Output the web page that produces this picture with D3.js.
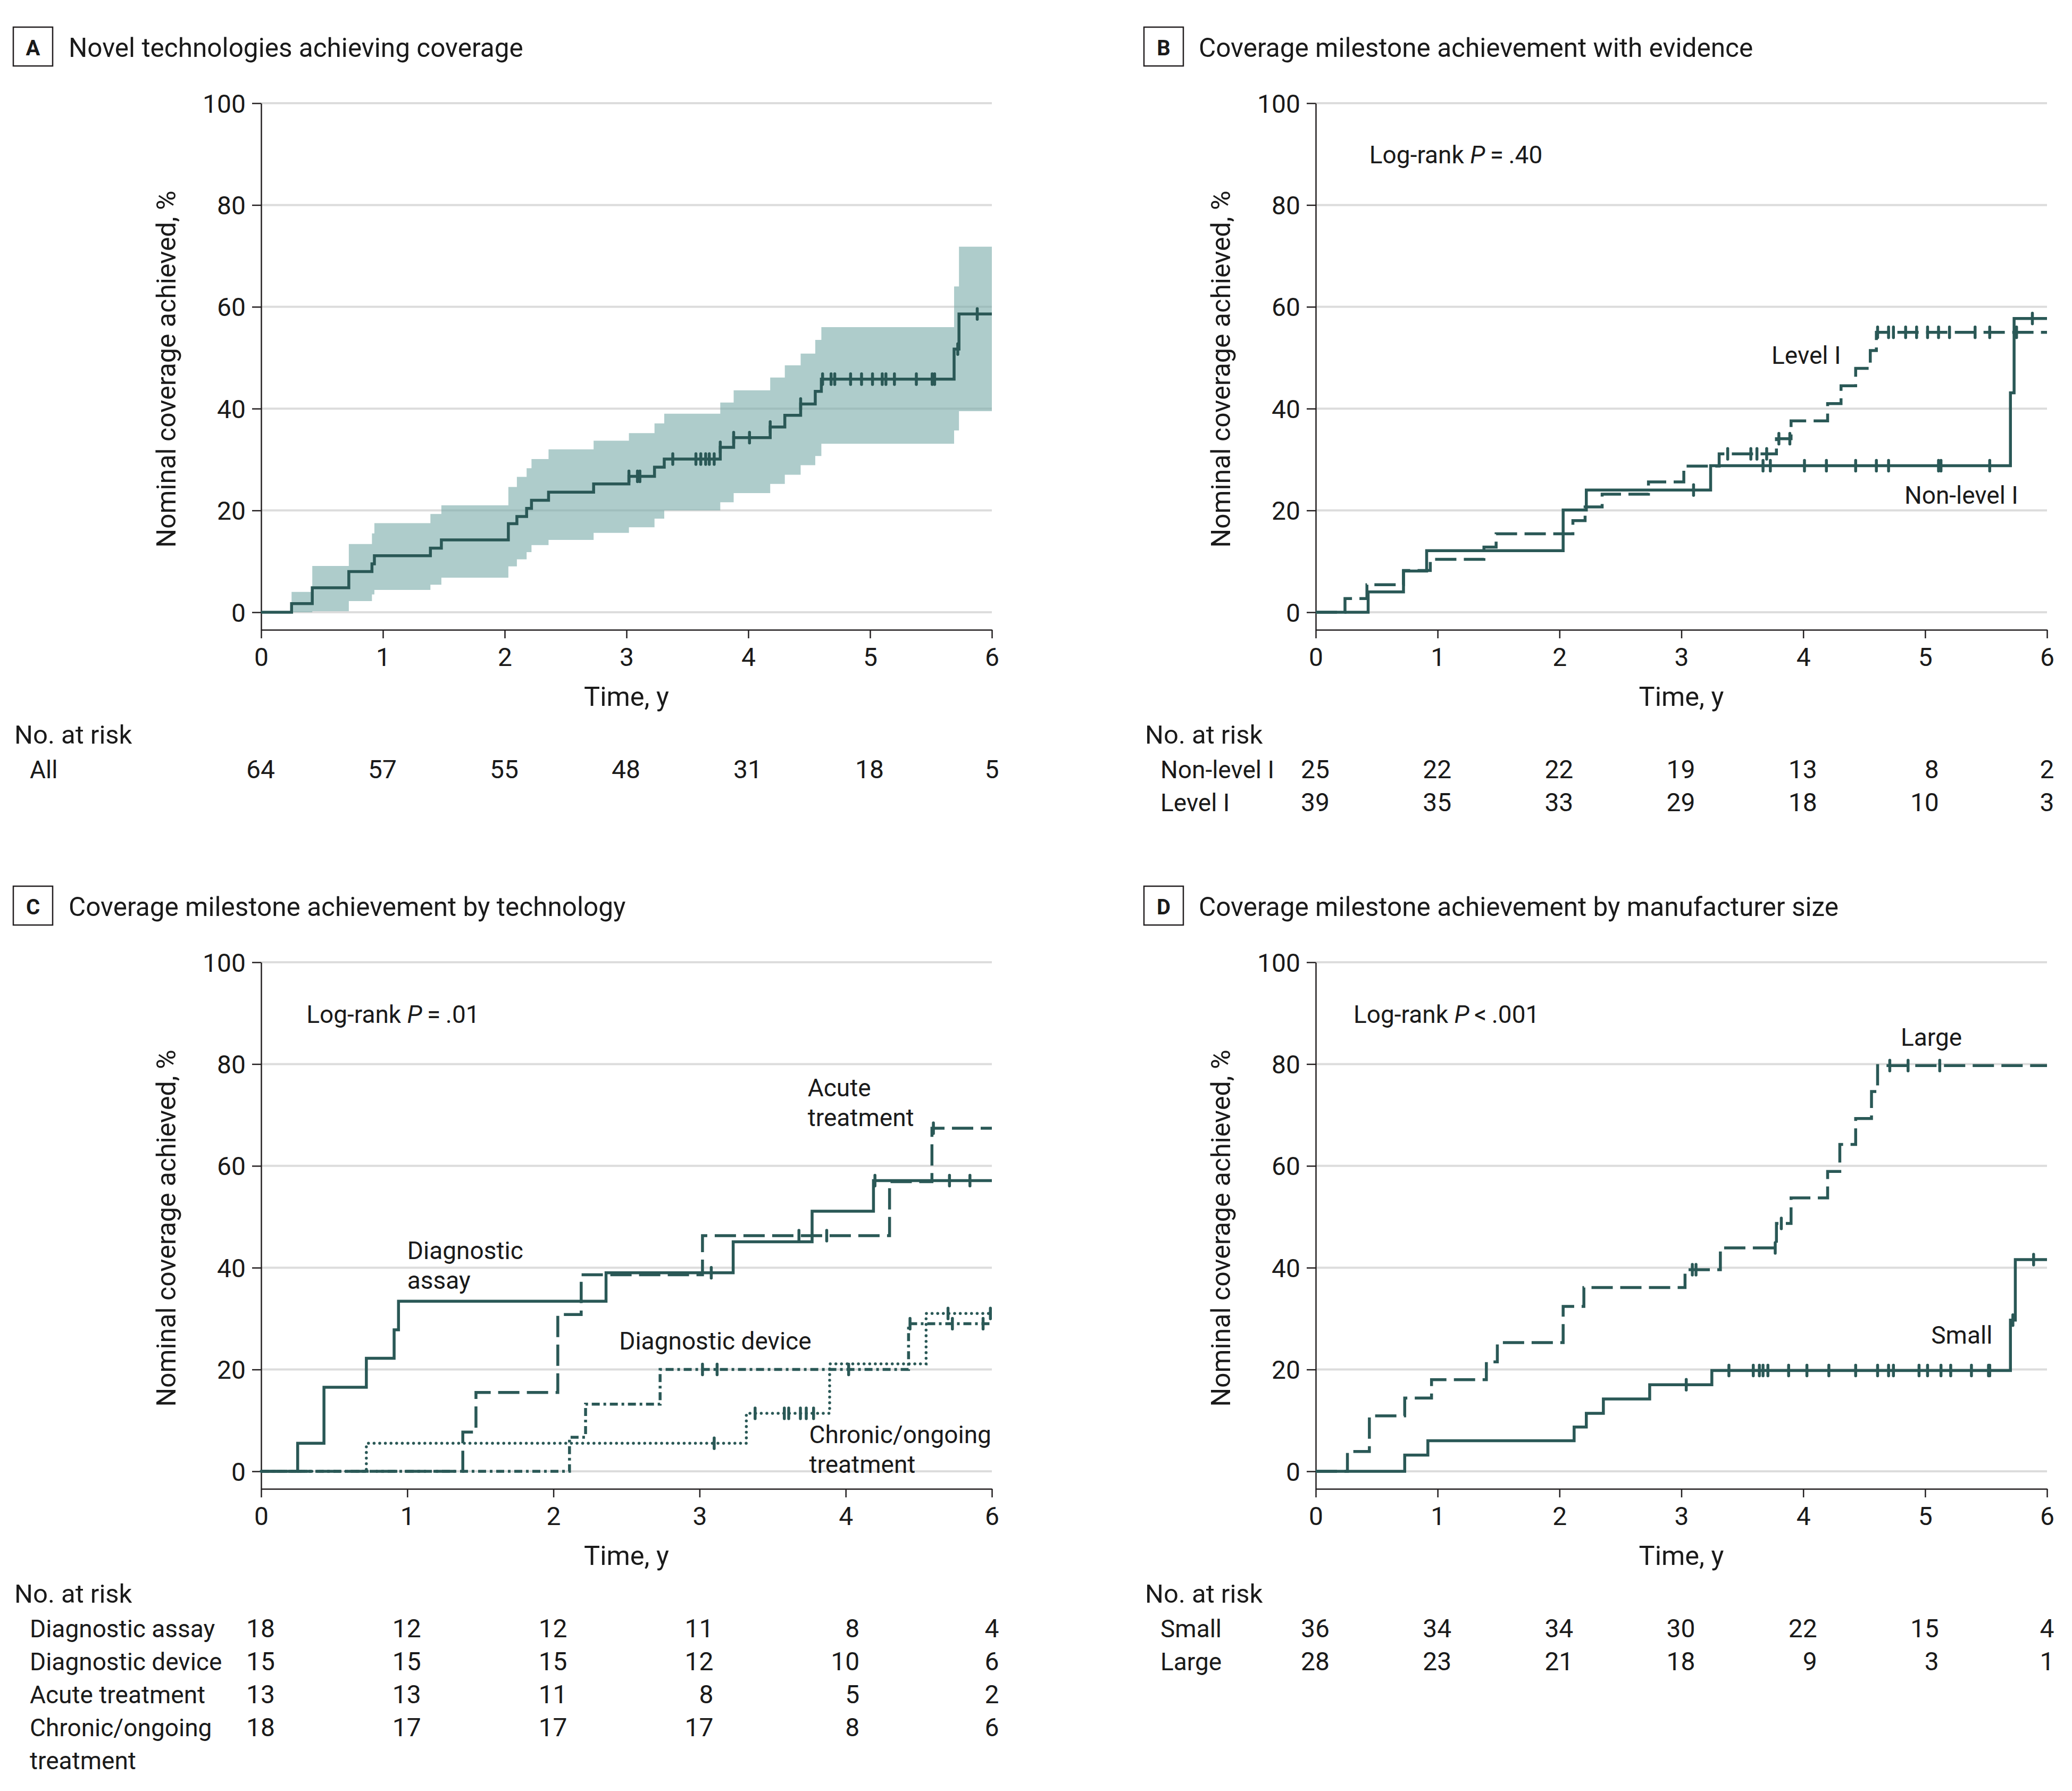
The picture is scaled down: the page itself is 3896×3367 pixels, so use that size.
<!DOCTYPE html>
<html><head><meta charset="utf-8">
<script src="https://cdn.jsdelivr.net/npm/d3@7/dist/d3.min.js"></script>
<style>
body{margin:0;background:#fff}
text{font-family:Roboto,"Noto Sans",sans-serif;fill:#1a1a1a}
</style>
</head><body>
<svg id="chart" width="3896" height="3367"></svg>
<script>
// ---------------- DATA ----------------
const titles = ["Novel technologies achieving coverage","Coverage milestone achievement with evidence","Coverage milestone achievement by technology","Coverage milestone achievement by manufacturer size"];
const panelLetters = ["A","B","C","D"];
const yTicks = [0,20,40,60,80,100];
const xTicks6 = [0,1,2,3,4,5,6];
const xTickLabels6 = ["0","1","2","3","4","5","6"];
const xTicksC = [0,1,2,3,4,5];
const xTickLabelsC = ["0","1","2","3","4","6"];

// Panel A
const aTimes = [0.25,0.42,0.72,0.91,0.93,1.39,1.48,2.03,2.10,2.18,2.22,2.36,2.73,3.02,3.23,3.31,3.77,3.88,4.18,4.30,4.43,4.55,4.60,5.69,5.73];
const aCum   = [1.7,4.8,8.0,9.5,11.1,12.6,14.2,17.4,18.8,20.4,22.0,23.6,25.2,26.7,28.5,30.1,32.4,34.3,36.4,38.7,40.9,43.4,45.8,51.7,58.6];
const aUpper = [4.0,9.1,13.4,15.5,17.5,19.3,21.0,24.6,26.6,28.3,30.1,32.0,33.7,35.2,37.1,39.0,41.2,43.6,46.1,48.5,50.8,53.5,56.0,64.0,71.8];
const aLower = [0.0,0.2,2.2,3.5,4.4,5.4,6.8,9.0,10.4,11.8,13.2,14.2,15.6,16.7,18.4,20.0,21.6,23.4,25.2,27.0,28.9,30.7,33.1,35.7,39.5];
const aCensor = [3.02,3.09,3.11,3.38,3.57,3.61,3.65,3.68,3.72,3.77,3.88,4.01,4.18,4.43,4.61,4.68,4.71,4.84,4.93,5.02,5.10,5.13,5.20,5.38,5.51,5.53,5.72,5.88];
const aRiskLabels = [["All"]];
const aRisk = [[64,57,55,48,31,18,5]];

// Panel B
const bNonTimes = [0.43,0.72,0.91,2.03,2.22,3.24,5.70,5.73];
const bNonCum   = [4.0,8.1,12.1,20.1,24.0,28.8,43.1,57.7];
const bNonCensor = [3.10,3.67,3.73,4.01,4.19,4.43,4.60,4.70,5.11,5.13,5.53,5.88];
const bLevTimes = [0.24,0.42,0.72,0.94,1.38,1.48,2.11,2.21,2.35,2.73,3.02,3.31,3.78,3.90,4.20,4.31,4.43,4.55,4.60];
const bLevCum   = [2.7,5.4,8.2,10.4,12.8,15.4,18.0,20.7,23.2,25.6,28.7,31.1,34.1,37.6,41.0,44.5,47.9,51.4,55.0];
const bLevCensor = [3.38,3.57,3.62,3.70,3.80,3.89,4.61,4.70,4.74,4.84,4.93,5.02,5.11,5.20,5.41,5.53,5.75];
const bRiskLabels = [["Non-level I"],["Level I"]];
const bRisk = [[25,22,22,19,13,8,2],[39,35,33,29,18,10,3]];

// Panel C
const cAssayTimes = [0.25,0.43,0.72,0.91,0.94,2.36,3.23,3.77,4.19];
const cAssayCum   = [5.5,16.5,22.2,27.8,33.4,39.0,45.1,51.1,57.1];
const cAssayCensor = [3.08,4.20,4.71,4.85];
const cAcuteTimes = [1.38,1.47,2.03,2.19,3.02,4.30,4.59];
const cAcuteCum   = [7.7,15.5,30.8,38.6,46.3,56.9,67.4];
const cAcuteCensor = [3.68,3.87,4.60];
const cDeviceTimes = [2.11,2.22,2.73,4.43];
const cDeviceCum   = [6.7,13.2,20.0,29.0];
const cDeviceCensor = [3.02,3.12,4.02,4.44,4.73,4.94];
const cChronicTimes = [0.72,3.32,3.89,4.55];
const cChronicCum   = [5.5,11.4,21.1,31.0];
const cChronicCensor = [3.10,3.38,3.58,3.61,3.69,3.73,3.78,4.70,4.99];
const cRiskLabels = [["Diagnostic assay"],["Diagnostic device"],["Acute treatment"],["Chronic/ongoing","treatment"]];
const cRisk = [[18,12,12,11,8,4],[15,15,15,12,10,6],[13,13,11,8,5,2],[18,17,17,17,8,6]];

// Panel D
const dLargeTimes = [0.26,0.44,0.73,0.95,1.40,1.49,2.03,2.20,3.03,3.32,3.78,3.90,4.20,4.30,4.43,4.56,4.61];
const dLargeCum   = [3.9,10.9,14.4,18.0,21.5,25.3,32.4,36.1,39.6,43.9,48.7,53.7,58.9,64.2,69.3,74.6,79.7];
const dLargeCensor = [3.09,3.12,3.77,3.82,4.71,4.86,5.12];
const dSmallTimes = [0.73,0.92,2.12,2.22,2.36,2.74,3.25,5.70,5.74];
const dSmallCum   = [3.2,6.0,8.7,11.4,14.2,17.0,19.8,29.7,41.6];
const dSmallCensor = [3.04,3.39,3.59,3.64,3.67,3.71,3.88,4.03,4.21,4.43,4.61,4.70,4.74,4.95,5.02,5.13,5.21,5.38,5.52,5.53,5.72,5.89];
const dRiskLabels = [["Small"],["Large"]];
const dRisk = [[36,34,34,30,22,15,4],[28,23,21,18,9,3,1]];

// ---------------- STYLE / LAYOUT ----------------
const LINE = "#2a5856", BAND = "#78aaa8", GRID = "#dcdcdc", AXIS = "#231f20";
const DASH = {solid:null, dashed:"40,14", dashdot:"15,7,5,7", dotted:"0.1,10.5"};
const svg = d3.select("#chart");
svg.append("rect").attr("width",3896).attr("height",3367).attr("fill","#fff");

const panels = [
  {i:0, boxX:25, titleX:129, x0:491, x1:1865, off:0, xMax:6, xTicks:xTicks6, xLabels:xTickLabels6,
   band:{times:aTimes, lo:aLower, hi:aUpper},
   series:[{times:aTimes, cum:aCum, censor:aCensor, dash:"solid"}],
   riskLabels:aRiskLabels, risk:aRisk, notes:[]},
  {i:1, boxX:2151, titleX:2254, x0:2474, x1:3849, off:0, xMax:6, xTicks:xTicks6, xLabels:xTickLabels6,
   series:[{times:bNonTimes, cum:bNonCum, censor:bNonCensor, dash:"solid"},
           {times:bLevTimes, cum:bLevCum, censor:bLevCensor, dash:"dashed"}],
   riskLabels:bRiskLabels, risk:bRisk,
   notes:[{t:0.44, v:88.2, logrank:"= .40"},{t:3.74, v:48.8, lines:["Level I"]},{t:4.83, v:21.3, lines:["Non-level I"]}]},
  {i:2, boxX:25, titleX:129, x0:491, x1:1865, off:1615, xMax:5, xTicks:xTicksC, xLabels:xTickLabelsC,
   series:[{times:cAssayTimes, cum:cAssayCum, censor:cAssayCensor, dash:"solid"},
           {times:cAcuteTimes, cum:cAcuteCum, censor:cAcuteCensor, dash:"dashed"},
           {times:cDeviceTimes, cum:cDeviceCum, censor:cDeviceCensor, dash:"dashdot"},
           {times:cChronicTimes, cum:cChronicCum, censor:cChronicCensor, dash:"dotted"}],
   riskLabels:cRiskLabels, risk:cRisk,
   notes:[{t:0.31, v:88.1, logrank:"= .01"},{t:3.74, v:73.7, lines:["Acute","treatment"]},
          {t:1.0, v:41.7, lines:["Diagnostic","assay"]},{t:2.45, v:23.9, lines:["Diagnostic device"]},
          {t:3.75, v:5.5, lines:["Chronic/ongoing","treatment"]}]},
  {i:3, boxX:2151, titleX:2254, x0:2474, x1:3849, off:1615, xMax:6, xTicks:xTicks6, xLabels:xTickLabels6,
   series:[{times:dSmallTimes, cum:dSmallCum, censor:dSmallCensor, dash:"solid"},
           {times:dLargeTimes, cum:dLargeCum, censor:dLargeCensor, dash:"dashed"}],
   riskLabels:dRiskLabels, risk:dRisk,
   notes:[{t:0.31, v:88.1, logrank:"< .001"},{t:4.80, v:83.6, lines:["Large"]},{t:5.05, v:25.1, lines:["Small"]}]}
];

function stepValue(times, cum, t){
  let v = 0;
  for (let k=0;k<times.length;k++){ if (times[k] <= t + 1e-9) v = cum[k]; }
  return v;
}

panels.forEach(p => {
  const g = svg.append("g");
  const y100 = 194 + p.off, y0 = 1151 + p.off, axisY = 1184 + p.off;
  const x = d3.scaleLinear().domain([0,p.xMax]).range([p.x0,p.x1]);
  const yLow = -100*(axisY - y0)/(y0 - y100);
  const y = d3.scaleLinear().domain([yLow,100]).range([axisY,y100]);

  // title
  g.append("rect").attr("x",p.boxX).attr("y",51+p.off).attr("width",74).attr("height",73)
    .attr("fill","none").attr("stroke",AXIS).attr("stroke-width",2.5);
  g.append("text").attr("x",p.boxX+37).attr("y",104+p.off).attr("text-anchor","middle")
    .attr("font-size",40).attr("font-weight","bold").text(panelLetters[p.i]);
  g.append("text").attr("x",p.titleX).attr("y",107+p.off).attr("font-size",49.5).text(titles[p.i]);

  // gridlines
  g.append("g").selectAll("line").data(yTicks).join("line")
    .attr("x1",p.x0).attr("x2",p.x1).attr("y1",d=>y(d)).attr("y2",d=>y(d))
    .attr("stroke",GRID).attr("stroke-width",4);

  // band (semi-transparent over gridlines)
  if (p.band){
    const pts = p.band.times.map((t,k)=>({t, lo:p.band.lo[k], hi:p.band.hi[k]}));
    pts.push({t:p.xMax, lo:pts[pts.length-1].lo, hi:pts[pts.length-1].hi});
    g.append("path").datum(pts).attr("fill",BAND).attr("fill-opacity",0.6)
      .attr("d", d3.area().curve(d3.curveStepAfter).x(d=>x(d.t)).y0(d=>y(d.lo)).y1(d=>y(d.hi)));
  }

  // axes
  const ya = g.append("g").attr("transform",`translate(${p.x0},0)`)
    .call(d3.axisLeft(y).tickValues(yTicks).tickSize(17).tickSizeOuter(0).tickPadding(12));
  ya.selectAll("text").attr("font-size",48).attr("dy","0.355em").style("font-family","Roboto,'Noto Sans',sans-serif").attr("fill","#1a1a1a");
  const xa = g.append("g").attr("transform",`translate(0,${axisY})`)
    .call(d3.axisBottom(x).tickValues(p.xTicks).tickFormat((d,k)=>p.xLabels[k]).tickSize(16).tickSizeOuter(0).tickPadding(18));
  xa.selectAll("text").attr("font-size",48).style("font-family","Roboto,'Noto Sans',sans-serif").attr("fill","#1a1a1a");
  [ya,xa].forEach(a=>{ a.selectAll("path,line").attr("stroke",AXIS).attr("stroke-width",2.5); });

  // series
  p.series.forEach(s => {
    const pts = [{t:0,v:0}].concat(s.times.map((t,k)=>({t, v:s.cum[k]})));
    pts.push({t:p.xMax, v:s.cum[s.cum.length-1]});
    const path = g.append("path").datum(pts).attr("fill","none").attr("stroke",LINE)
      .attr("stroke-width", 5.5)
      .attr("d", d3.line().curve(d3.curveStepAfter).x(d=>x(d.t)).y(d=>y(d.v)));
    if (DASH[s.dash]) path.attr("stroke-dasharray", DASH[s.dash]);
    if (s.dash==="dotted") path.attr("stroke-linecap","round").attr("stroke-width",5.5);
    g.append("g").selectAll("line").data(s.censor).join("line")
      .attr("x1",d=>x(d)).attr("x2",d=>x(d))
      .attr("y1",d=>y(stepValue(s.times,s.cum,d))-10).attr("y2",d=>y(stepValue(s.times,s.cum,d))+10)
      .attr("stroke",LINE).attr("stroke-width",5.5).attr("stroke-linecap","round");
  });

  // notes
  p.notes.forEach(n => {
    if (n.logrank){
      const t = g.append("text").attr("x",x(n.t)).attr("y",y(n.v)).attr("font-size",46);
      t.append("tspan").text("Log-rank ");
      t.append("tspan").attr("font-style","italic").text("P");
      t.append("tspan").text("\u2009" + n.logrank.replace(" ","\u2009"));
    } else {
      n.lines.forEach((ln,k)=>{
        g.append("text").attr("x",x(n.t)).attr("y",y(n.v) + k*56).attr("font-size",46).text(ln);
      });
    }
  });

  // axis titles
  g.append("text").attr("x",(p.x0+p.x1)/2).attr("y",axisY+143).attr("text-anchor","middle")
    .attr("font-size",50.5).text("Time, y");
  g.append("text").attr("transform",`translate(${p.x0-161},${(y100+axisY)/2+5}) rotate(-90)`)
    .attr("text-anchor","middle").attr("font-size",50).text("Nominal coverage achieved, %");

  // at risk
  g.append("text").attr("x",p.boxX+2).attr("y",axisY+214).attr("font-size",49).text("No. at risk");
  p.riskLabels.forEach((lab,r)=>{
    const by = axisY + 279 + r*62;
    lab.forEach((ln,k)=>{
      g.append("text").attr("x",p.boxX+31).attr("y",by + k*62).attr("font-size",46).text(ln);
    });
    const row = p.risk[r];
    g.append("g").selectAll("text").data(row).join("text")
      .attr("x",(d,j)=> x(p.xTicks[j]) + (j<row.length-1 ? 26 : 0))
      .attr("y",by).attr("font-size",48)
      .attr("text-anchor",(d,j)=> j<row.length-1 ? "end" : "middle")
      .text(d=>d);
  });
});
</script>
</body></html>
